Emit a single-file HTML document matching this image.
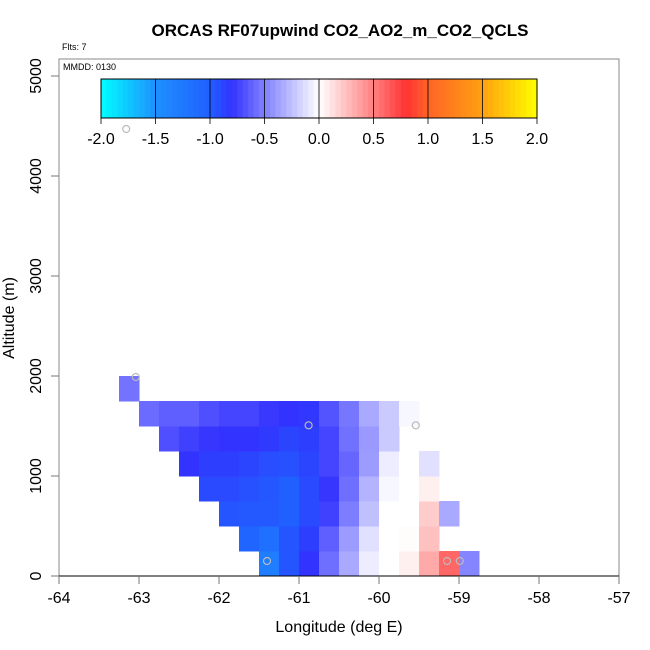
<!DOCTYPE html>
<html><head><meta charset="utf-8"><style>
body{margin:0;background:#fff}
svg{display:block;font-family:"Liberation Sans",sans-serif}
</style></head><body>
<svg id="chart" width="650" height="650" viewBox="0 0 650 650">
<text x="340" y="36" text-anchor="middle" font-size="17" font-weight="bold">ORCAS RF07upwind CO2_AO2_m_CO2_QCLS</text>
<text x="62" y="50" font-size="9">Flts: 7</text>
<rect x="59" y="59" width="560" height="517" fill="none" stroke="#888"/>
<text x="63" y="70" font-size="9">MMDD: 0130</text>
<g id="cells"></g>
<g id="colorbar"></g>
<g id="axes"></g>
<text x="339" y="632" text-anchor="middle" font-size="16">Longitude (deg E)</text>
<text transform="translate(14,318) rotate(-90)" text-anchor="middle" font-size="16">Altitude (m)</text>
</svg>
<script>
const rowAlts=[0,250,500,750,1000,1250,1500,1750];
const rowStartLon=[-61.5,-61.75,-62.0,-62.25,-62.5,-62.75,-63.0,-63.25];
const row0=[-1.3,-0.95,-0.8,-0.57,-0.34,-0.07,0,0.06,0.34,0.6,-0.48];
const row1=[-1.05,-1.17,-0.95,-0.85,-0.63,-0.39,-0.12,0,0.01,0.25];
const row2=[-0.95,-0.97,-0.97,-1.0,-0.9,-0.75,-0.51,-0.25,0,0,0.2,-0.34];
const row3=[-0.9,-0.9,-0.93,-0.96,-1.0,-0.9,-0.79,-0.57,-0.3,-0.03,0,0.06];
const row4=[-0.8,-0.85,-0.85,-0.88,-0.92,-0.93,-0.88,-0.73,-0.6,-0.39,-0.07,0,-0.12];
const row5=[-0.69,-0.75,-0.79,-0.8,-0.8,-0.83,-0.88,-0.85,-0.73,-0.56,-0.4,-0.21];
const row6=[-0.58,-0.63,-0.63,-0.69,-0.73,-0.73,-0.78,-0.8,-0.82,-0.67,-0.54,-0.34,-0.21,-0.03];
const row7=[-0.55];
const rows=[row0,row1,row2,row3,row4,row5,row6,row7];
const cellW=0.25, cellH=250;
const circleLon=[-63.04,-61.4,-60.88,-59.54,-59.15,-58.99,-63.16];
const circleAlt=[1990,150,1507,1507,150,150,4470];
const xTicks=[-64,-63,-62,-61,-60,-59,-58,-57];
const yTicks=[0,1000,2000,3000,4000,5000];
const cbTicks=[-2.0,-1.5,-1.0,-0.5,0.0,0.5,1.0,1.5,2.0];
const stops=[[-2,[0,255,255]],[-1.5,[30,144,255]],[-1.0,[32,96,255]],[-0.8,[51,51,255]],[-0.5,[128,128,255]],[0,[255,255,255]],[0.5,[255,128,128]],[0.8,[255,51,51]],[1.0,[255,100,40]],[1.5,[255,160,16]],[2,[255,255,0]]];
const NS="http://www.w3.org/2000/svg";
const X=v=>59+(v+64)*80;
const Y=v=>576-v*0.1;
function col(v){v=Math.max(-2,Math.min(2,v));for(let i=0;i<stops.length-1;i++){const[a,ca]=stops[i],[b,cb]=stops[i+1];if(v<=b){const t=(v-a)/(b-a);return'rgb('+ca.map((c,k)=>Math.round(c+(cb[k]-c)*t)).join(',')+')';}}return'rgb(255,255,0)';}
function mk(tag,attrs,parent){const e=document.createElementNS(NS,tag);for(const k in attrs)e.setAttribute(k,attrs[k]);parent.appendChild(e);return e;}
const cells=document.getElementById('cells');
rows.forEach((r,ri)=>{r.forEach((v,ci)=>{const lon=rowStartLon[ri]+ci*cellW;const x0=X(lon),x1=X(lon+cellW),y0=Y(rowAlts[ri]+cellH),y1=Y(rowAlts[ri]);
const e=mk('rect',{x:x0,y:y0,width:x1-x0+0.5,height:y1-y0+0.5,fill:col(v)},cells);

});});
circleLon.forEach((lon,i)=>{const e=mk('circle',{cx:X(lon),cy:Y(circleAlt[i]),r:3.5,fill:'none',stroke:'#bbb','stroke-width':1.2},cells);

});
const cb=document.getElementById('colorbar');
const cbL=101,cbR=537,cbT=79,cbB=118;
const CX=v=>cbL+(v+2)/4*(cbR-cbL);
for(let i=0;i<80;i++){const v=-2+i*0.05+0.025;const e=mk('rect',{x:CX(v-0.025),y:cbT,width:(cbR-cbL)/80+0.4,height:cbB-cbT,fill:col(v)},cb);

}
mk('rect',{x:cbL,y:cbT,width:cbR-cbL,height:cbB-cbT,fill:'none',stroke:'#000'},cb);
cbTicks.forEach(v=>{const x=CX(v);mk('line',{x1:x,x2:x,y1:cbT,y2:cbB+6,stroke:'#000','stroke-width':0.8},cb);
const t=mk('text',{x:x,y:144,'text-anchor':'middle','font-size':16},cb);t.textContent=v.toFixed(1);

});
const ax=document.getElementById('axes');
mk('line',{x1:59,x2:619,y1:576,y2:576,stroke:'#000','stroke-width':1},ax);
xTicks.forEach(v=>{const x=X(v);mk('line',{x1:x,x2:x,y1:576,y2:584,stroke:'#777'},ax);
const t=mk('text',{x:x,y:603,'text-anchor':'middle','font-size':16},ax);t.textContent=v;

});
yTicks.forEach(v=>{const y=Y(v);mk('line',{x1:51,x2:59,y1:y,y2:y,stroke:'#777'},ax);
const t=mk('text',{transform:'translate(41,'+y+') rotate(-90)','text-anchor':'middle','font-size':16},ax);t.textContent=v;

});
</script>
</body></html>
